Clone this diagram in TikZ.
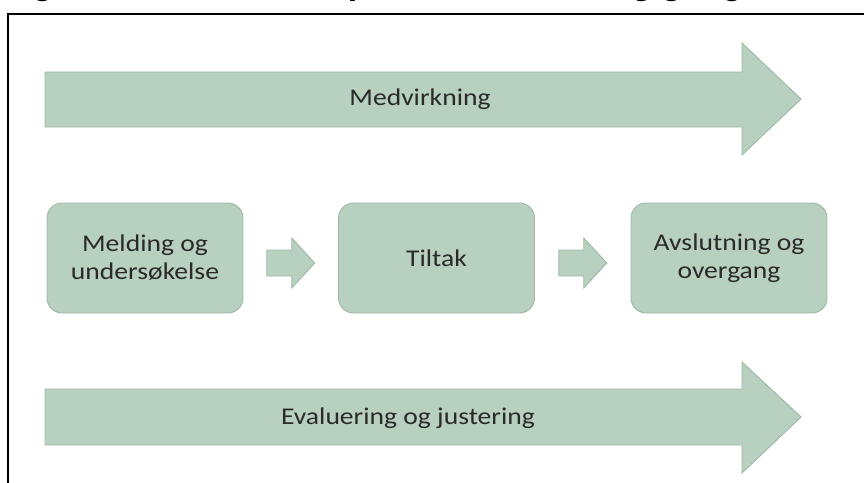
\documentclass[tikz,border=0pt]{standalone}
\usepackage{fontspec}
\setmainfont{Liberation Sans}
\newfontfamily\bodyfont[FakeStretch=1.15]{Carlito}
\usetikzlibrary{calc}
\definecolor{sage}{HTML}{B8D0BF}
\definecolor{sageline}{HTML}{9CB9A6}
\definecolor{txt}{HTML}{2A2A2A}
\tikzset{
  box/.style={draw=sageline, line width=0.9pt, fill=sage, rounded corners=15pt,
    minimum width=196pt, minimum height=110pt, inner sep=0pt,
    align=center, text=txt, font=\bodyfont\fontsize{24}{28}\selectfont},
  lbl/.style={text=txt, inner sep=0pt, font=\bodyfont\fontsize{24}{28}\selectfont},
  bigarrow/.style={draw=sageline, line width=0.9pt, fill=sage, line join=miter},
  framerule/.style={line width=2pt, black}
}
\begin{document}
\begin{tikzpicture}[x=1pt, y=-1pt]
\clip[use as bounding box] (0,0) rectangle (864,482);
% caption: only its lowest strip lies inside the picture
\node[anchor=base west, inner sep=0pt, font=\bfseries\fontsize{34}{40}\selectfont] (title) at (2,-6)
    {Figur 1 Standardforløp i barnevernet, og gang};
% frame
\draw[framerule] (8,483) -- (8,14) -- (865,14);
% top big arrow
\draw[bigarrow] (45,72) -- (742,72) -- (742,43) -- (801,99) -- (742,155) -- (742,127) -- (45,127) -- cycle;
\node[lbl] (medv) at (420,99) {Medvirkning};
% bottom big arrow
\draw[bigarrow] (45,389) -- (742,389) -- (742,362) -- (801,417) -- (742,473) -- (742,445) -- (45,445) -- cycle;
\node[lbl] (eval) at (408,418) {Evaluering og justering};
% boxes
\node[box] (b1) at (145,258) {Melding og\\undersøkelse};
\node[box] (b2) at (436.5,258) {Tiltak};
\node[box] (b3) at (729,258) {Avslutning og\\overgang};
% small arrows between boxes
\foreach \a/\b in {b1/b2, b2/b3}{
  \coordinate (m) at ($(\a.east)!0.5!(\b.west)+(0,5)$);
  \draw[bigarrow] ($(m)+(-24,-13)$) -- ($(m)+(1,-13)$) -- ($(m)+(1,-25)$) -- ($(m)+(24,0)$)
     -- ($(m)+(1,25)$) -- ($(m)+(1,13)$) -- ($(m)+(-24,13)$) -- cycle;
}
\end{tikzpicture}
\end{document}
